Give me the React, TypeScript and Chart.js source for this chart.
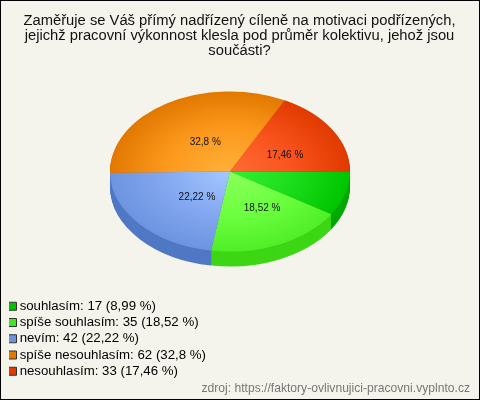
import React, { useEffect, useRef } from "react";
import { Chart, registerables } from "chart.js";

Chart.register(...registerables);

const titleLines = [
  "Zaměřuje se Váš přímý nadřízený cíleně na motivaci podřízených,",
  "jejichž pracovní výkonnost klesla pod průměr kolektivu, jehož jsou",
  "součásti?",
];
const sourceText = "zdroj: https://faktory-ovlivnujici-pracovni.vyplnto.cz";
const categories = ["souhlasím", "spíše souhlasím", "nevím", "spíše nesouhlasím", "nesouhlasím"];
const values = [17, 35, 42, 62, 33];
const percents = ["8,99", "18,52", "22,22", "32,8", "17,46"];
const sliceLabels = ["", "18,52 %", "22,22 %", "32,8 %", "17,46 %"];
const innerColors = ["#33f033", "#8cff5c", "#a4c8ff", "#ffb038", "#ff6c34"];
const midColors = ["#1bdc1a", "#6cff40", "#84a8f0", "#fb981c", "#f8521c"];
const outerColors = ["#00c400", "#50ee28", "#6c94e0", "#e27800", "#e03a00"];
const sideColors = ["#00a800", "#3dd615", "#5078c4", "#c06000", "#b83000"];
const legendColors = ["#00c000", "#44e622", "#6c94dc", "#e27800", "#e03a00"];
const labelFractions = [[0, 0], [0.65, 0.49], [0.365, 0.467], [0.39, 0.44], [0.537, 0.42]];

const BG = "#f5f4ec";
const CX = 230;
const CY = 171.5;
const RX = 120;
const RY = 80;
const DEPTH = 15;

function withEllipse(ctx: any, el: any, dy: number, fn: () => void) {
  ctx.save();
  ctx.translate(CX, CY + dy);
  ctx.scale(RX / el.outerRadius, RY / el.outerRadius);
  ctx.translate(-el.x, -el.y);
  fn();
  ctx.restore();
}

const pie3d = {
  id: "pie3d",
  beforeDatasetDraw(chart: any, args: any) {
    const ctx = chart.ctx;
    const arcs = args.meta.data;
    for (let d = DEPTH; d >= 1; d--) {
      arcs.forEach((arc: any, i: number) => {
        const saved = arc.options;
        arc.options = { ...saved, backgroundColor: sideColors[i], borderWidth: 0 };
        withEllipse(ctx, arc, d, () => arc.draw(ctx));
        arc.options = saved;
      });
    }
    arcs.forEach((arc: any) => withEllipse(ctx, arc, 0, () => arc.draw(ctx)));
    return false;
  },
  afterDraw(chart: any) {
    const ctx = chart.ctx;
    const arcs = chart.getDatasetMeta(0).data;
    ctx.save();
    ctx.font = "10px 'Liberation Sans'";
    ctx.fillStyle = "#111";
    ctx.textAlign = "center";
    ctx.textBaseline = "middle";
    arcs.forEach((arc: any, i: number) => {
      if (!sliceLabels[i]) return;
      const mid = (arc.startAngle + arc.endAngle) / 2;
      const x = CX + Math.cos(mid) * RX * labelFractions[i][0];
      const y = CY + 1 + Math.sin(mid) * RY * labelFractions[i][1];
      ctx.fillText(sliceLabels[i], x, y);
    });
    ctx.restore();
  },
};

export default function App() {
  const ref = useRef<HTMLCanvasElement>(null);
  useEffect(() => {
    document.body.style.margin = "0";
    document.body.style.background = BG;
    const chart = new Chart(ref.current as HTMLCanvasElement, {
      type: "pie",
      data: {
        labels: categories,
        datasets: [
          {
            data: values,
            borderWidth: 0,
            backgroundColor: (c: any) => {
              const area = c.chart.chartArea;
              if (!area) return outerColors[c.dataIndex];
              const x = (area.left + area.right) / 2;
              const y = (area.top + area.bottom) / 2;
              const r = Math.min(area.right - area.left, area.bottom - area.top) / 2;
              const g = c.chart.ctx.createRadialGradient(x, y, 0, x, y, r);
              g.addColorStop(0, innerColors[c.dataIndex]);
              g.addColorStop(0.55, midColors[c.dataIndex]);
              g.addColorStop(1, outerColors[c.dataIndex]);
              return g;
            },
          },
        ],
      },
      options: {
        animation: false,
        responsive: false,
        events: [],
        rotation: 90,
        layout: { padding: { left: 9, right: 10, top: 0, bottom: 3 } },
        plugins: {
          tooltip: { enabled: false },
          title: {
            display: true,
            text: titleLines,
            color: "#111",
            font: { family: "'Liberation Sans'", size: 14.75, weight: "normal", lineHeight: 1.04 },
            padding: { top: 13, bottom: 4 },
          },
          subtitle: {
            display: true,
            position: "bottom",
            align: "end",
            text: sourceText,
            color: "#777",
            font: { family: "'Liberation Sans'", size: 12.125, weight: "normal", lineHeight: 1 },
            padding: { top: 2, bottom: 2 },
          },
          legend: {
            display: true,
            fullSize: false,
            position: "left",
            align: "end",
            labels: {
              usePointStyle: true,
              boxWidth: 1,
              boxHeight: 8,
              padding: 3,
              color: "#111",
              font: { family: "'Liberation Sans'", size: 13.25 },
              generateLabels: () =>
                categories.map((cat, i) => ({
                  text: `${cat}: ${values[i]} (${percents[i]} %)`,
                  fillStyle: legendColors[i],
                  strokeStyle: "#333",
                  lineWidth: 1,
                  pointStyle: "rect",
                  index: i,
                  hidden: false,
                })),
            },
          },
        },
      } as any,
      plugins: [pie3d],
    } as any);
    return () => chart.destroy();
  }, []);
  return (
    <canvas
      ref={ref}
      width={480}
      height={400}
      style={{
        display: "block",
        width: 480,
        height: 400,
        background: BG,
        outline: "1px solid #000",
        outlineOffset: -1,
      }}
    />
  );
}
